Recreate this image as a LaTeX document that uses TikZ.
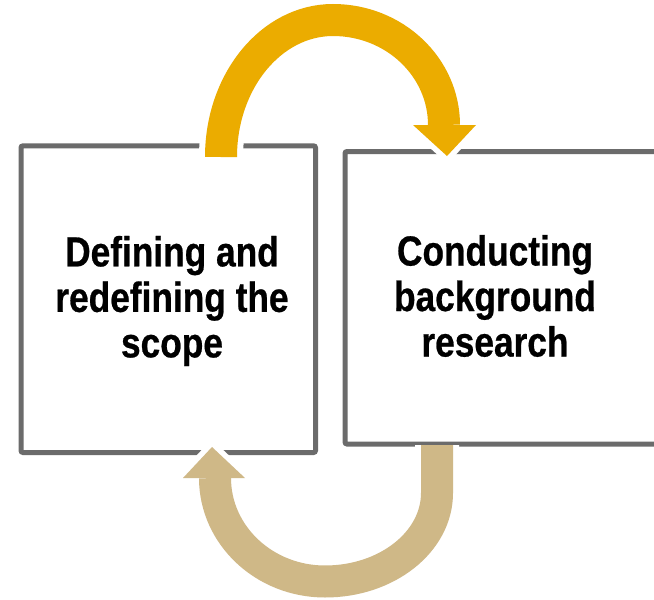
\documentclass[tikz,border=0pt]{standalone}
\usepackage{fontspec}
\newfontfamily\lblfont{Liberation Sans}[FakeStretch=0.84,FakeBold=0.6]
\definecolor{boxgray}{HTML}{6B6B6B}
\definecolor{goldc}{HTML}{EBAC00}
\definecolor{tanc}{HTML}{CFB887}
\tikzset{
  stepbox/.style={draw=boxgray, line width=5pt, rounded corners=2pt, fill=white, inner sep=0pt},
  lbl/.style={font=\lblfont\bfseries\fontsize{42}{45.5}\selectfont, align=center, text=black, inner sep=0pt},
  halo/.style={draw=white, line width=44pt},
  halohead/.style={draw=white, fill=white, line width=11pt, line join=round},
  toparc/.style={insert path={arc[start angle=180, end angle=270, x radius=112, y radius=137] arc[start angle=270, end angle=360, x radius=111, y radius=105]}},
  botarc/.style={insert path={-- (a2m) arc[start angle=0, end angle=90, x radius=112, y radius=88.5] arc[start angle=90, end angle=180, x radius=110, y radius=103.5]}},
}
\begin{document}
\begin{tikzpicture}[x=1pt,y=-1pt]
\useasboundingbox (0,0) rectangle (654,600);
\clip (0,0) rectangle (654,600);
% boxes
\node[stepbox, minimum width=294.5pt, minimum height=306.7pt] (L) at (168.25,299.15) {};
\node[stepbox, minimum width=355pt, minimum height=292.5pt] (R) at (522.5,297.75) {};
% texts
\node[lbl] (Lt) at (172,301) {Defining and\\redefining the\\scope};
\node[lbl] (Rt) at (495,296) {Conducting\\background\\research};
% arrow coordinates
\coordinate (a1s) at (221,157);
\coordinate (a1l) at (413,125);
\coordinate (a1r) at (476,125);
\coordinate (a1t) at (447,156);
\coordinate (a2s) at (437,445);
\coordinate (a2m) at (437,493);
\coordinate (a2l) at (183,478);
\coordinate (a2r) at (245,478);
\coordinate (a2t) at (212,447);
% halos
\draw[halo] (a1s) [toparc];
\draw[halohead] (a1l) -- (a1r) -- (a1t) -- cycle;
\draw[halo] (a2s) [botarc];
\draw[halohead] (a2l) -- (a2r) -- (a2t) -- cycle;
% arrows
\draw[goldc, line width=32pt] (a1s) [toparc];
\fill[goldc] (a1l) -- (a1r) -- (a1t) -- cycle;
\draw[tanc, line width=32pt] (a2s) [botarc];
\fill[tanc] (a2l) -- (a2r) -- (a2t) -- cycle;
\end{tikzpicture}
\end{document}
